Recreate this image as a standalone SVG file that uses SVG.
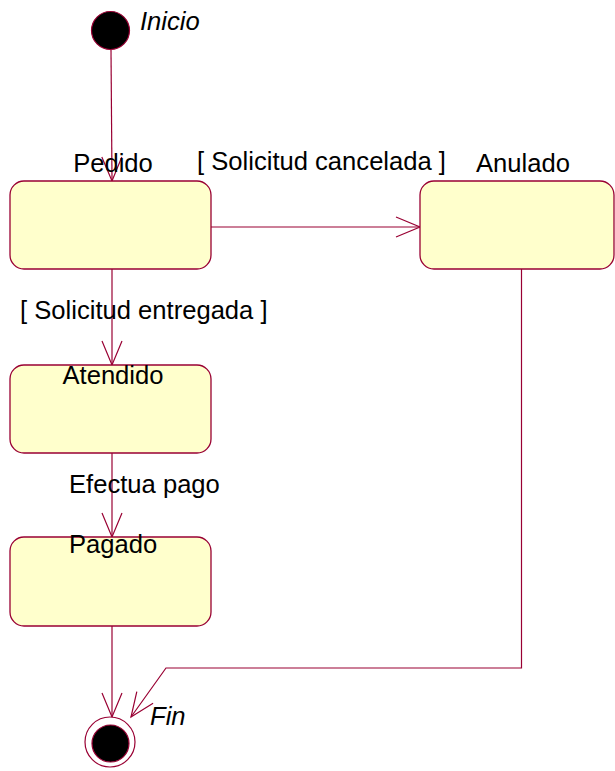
<svg xmlns="http://www.w3.org/2000/svg" width="615" height="771" viewBox="0 0 615 771">
<style>
.state{fill:#FFFFCC;stroke:#990033;stroke-width:1.3}
.edge{fill:none;stroke:#990033;stroke-width:1.2}
.lbl{font-family:"Liberation Sans",Arial,sans-serif;font-size:25.6px;fill:#000}
.it{font-style:italic}
</style>
<defs>
<marker id="open" markerUnits="userSpaceOnUse" markerWidth="30" markerHeight="24" viewBox="-2 -12 30 24" refX="24" refY="0" orient="auto">
<path d="M0,-10 L24,0 L0,10" fill="none" stroke="#990033" stroke-width="1.2"/>
</marker>
</defs>
<rect width="615" height="771" fill="#fff"/>
<g id="connectors">
<line class="edge" x1="111" y1="50" x2="112" y2="181" marker-end="url(#open)"/>
<line class="edge" x1="211" y1="227" x2="420" y2="227" marker-end="url(#open)"/>
<line class="edge" x1="112" y1="269" x2="112" y2="365" marker-end="url(#open)"/>
<line class="edge" x1="112" y1="453" x2="112" y2="537" marker-end="url(#open)"/>
<line class="edge" x1="112" y1="626" x2="112" y2="717" marker-end="url(#open)"/>
<polyline class="edge" points="521.5,269 521.5,668 166,668 131,717" marker-end="url(#open)"/>
<text class="lbl" x="197" y="170">[ Solicitud cancelada ]</text>
<text class="lbl" x="20" y="319">[ Solicitud entregada ]</text>
<text class="lbl" x="69" y="493">Efectua pago</text>
</g>
<g id="inicio">
<circle cx="110.5" cy="30.5" r="19" fill="#000" stroke="#990033" stroke-width="1.2"/>
<text class="lbl it" x="140" y="30">Inicio</text>
</g>
<g id="pedido">
<rect class="state" x="10" y="181" width="201" height="88" rx="14" ry="14"/>
<text class="lbl" x="113" y="172" text-anchor="middle">Pedido</text>
</g>
<g id="anulado">
<rect class="state" x="420" y="181" width="194" height="88" rx="14" ry="14"/>
<text class="lbl" x="523" y="172" text-anchor="middle">Anulado</text>
</g>
<g id="atendido">
<rect class="state" x="10" y="365" width="201" height="88" rx="14" ry="14"/>
<text class="lbl" x="113" y="384" text-anchor="middle">Atendido</text>
</g>
<g id="pagado">
<rect class="state" x="10" y="537" width="201" height="89" rx="14" ry="14"/>
<text class="lbl" x="113" y="553" text-anchor="middle">Pagado</text>
</g>
<g id="fin">
<circle cx="110" cy="742" r="25" fill="#fff" stroke="#990033" stroke-width="1.2"/>
<circle cx="110.5" cy="743.5" r="18.5" fill="#000" stroke="#990033" stroke-width="1.2"/>
<text class="lbl it" x="150" y="725">Fin</text>
</g>
</svg>
